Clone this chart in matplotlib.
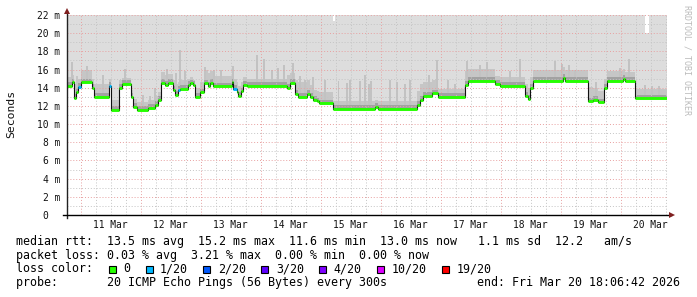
import numpy as np
import matplotlib
matplotlib.use('Agg')
import matplotlib.pyplot as plt
from matplotlib.patches import Rectangle

# time axis: days since 10 Mar 00:00, median rtt in ms (step starts)
seg_start = [0.767, 0.850, 0.888, 0.922, 0.960, 1.000, 1.183, 1.222, 1.477, 1.500,
             1.643, 1.683, 1.833, 1.877, 1.933, 2.127, 2.238, 2.293, 2.333, 2.405,
             2.460, 2.533, 2.572, 2.627, 2.655, 2.793, 2.822, 2.877, 2.905, 2.988,
             3.055, 3.127, 3.155, 3.210, 3.517, 3.543, 3.600, 3.627, 3.667, 3.710,
             3.767, 4.433, 4.488, 4.572, 4.627, 4.767, 4.822, 4.877, 4.933, 4.977,
             5.210, 5.905, 5.955, 6.605, 6.655, 6.705, 6.855, 6.955, 7.405, 7.455,
             7.905, 7.988, 8.405, 8.460, 8.488, 8.538, 9.038, 9.072, 9.455, 9.538,
             9.622, 9.722, 9.772, 10.038, 10.072, 10.238]
median_ms = [14.2, 14.6, 12.9, 13.5, 14.1, 14.6, 14.0, 13.0, 14.2, 11.55,
             14.0, 14.4, 13.0, 11.9, 11.6, 11.8, 12.1, 12.65, 14.55, 14.3,
             14.55, 13.75, 13.2, 13.75, 13.9, 14.3, 14.5, 14.3, 13.0, 13.5,
             14.5, 14.2, 14.55, 14.15, 14.6, 13.9, 13.5, 13.1, 13.6, 14.3,
             14.2, 14.0, 14.55, 13.3, 13.0, 13.3, 13.0, 12.7, 12.5, 12.3,
             11.7, 11.9, 11.7, 12.1, 12.7, 13.1, 13.4, 13.0, 14.3, 14.75,
             14.4, 14.2, 13.1, 12.8, 14.0, 14.75, 15.1, 14.75, 12.5, 12.7,
             12.4, 14.0, 14.75, 15.0, 14.75, 12.85]
# upper edge of the denser smoke per segment
smoke_hi = [15.2, 15.4, 14.4, 15.3, 15.0, 15.9, 15.0, 14.4, 15.0, 12.6,
            14.8, 15.1, 13.8, 12.8, 12.4, 12.6, 13.1, 13.5, 15.7, 15.4,
            15.5, 14.8, 14.4, 14.6, 14.9, 15.0, 15.2, 14.9, 14.0, 14.6,
            16.0, 15.6, 15.8, 15.3, 16.0, 15.0, 14.6, 14.2, 14.6, 15.2,
            15.0, 15.4, 15.6, 14.8, 14.6, 14.8, 14.3, 13.8, 13.6, 13.5,
            12.5, 12.6, 12.5, 13.6, 14.4, 14.6, 14.9, 13.9, 15.8, 16.1,
            15.3, 15.2, 14.4, 14.0, 15.2, 15.9, 16.3, 15.9, 14.1, 14.0,
            13.6, 15.0, 15.8, 16.1, 15.7, 13.9]
loss_n = [0, 0, 0, 0, 1, 0, 0, 0, 1, 0,
          0, 0, 0, 0, 0, 0, 0, 0, 0, 0,
          0, 0, 0, 1, 0, 0, 0, 0, 0, 0,
          0, 0, 0, 0, 0, 1, 0, 0, 0, 0,
          0, 0, 0, 0, 0, 0, 0, 0, 0, 0,
          0, 0, 0, 0, 0, 0, 0, 0, 0, 0,
          0, 0, 0, 0, 0, 0, 0, 0, 0, 0,
          0, 0, 0, 0, 0, 0]
t_end = 10.767

spike_day = [0.855, 1.105, 1.372, 1.738, 2.038, 2.155, 2.238, 2.438, 2.588, 2.655,
             2.738, 3.072, 3.222, 3.338, 3.538, 3.938, 4.055, 4.188, 4.288, 4.388,
             4.538, 4.655, 4.738, 4.872, 5.072, 5.300, 5.438, 5.488, 5.655, 5.738,
             5.805, 5.838, 6.155, 6.272, 6.405, 6.488, 6.805, 6.938, 7.122, 7.238,
             7.438, 7.655, 7.772, 8.155, 8.322, 8.905, 9.022, 9.138, 9.238, 9.588,
             9.988, 10.138, 10.405, 10.522, 10.638]
spike_top = [16.8, 16.4, 15.4, 16.1, 13.2, 13.1, 14.0, 16.1, 15.6, 18.2,
             15.8, 16.3, 15.9, 15.9, 16.4, 17.6, 17.2, 15.9, 16.2, 16.5,
             16.7, 15.3, 14.8, 15.2, 14.9, 14.7, 14.5, 14.85, 14.7, 15.4,
             14.4, 14.7, 14.9, 14.6, 14.4, 14.9, 15.4, 17.1, 14.9, 14.4,
             16.9, 16.5, 16.8, 15.8, 17.2, 16.9, 16.6, 16.5, 16.0, 14.6,
             16.2, 17.2, 14.3, 14.2, 14.2]

# places where the highest ping stayed below the top of the graph
gap_start = [5.205, 10.413]
gap_end = [5.238, 10.472]
gap_top = [21.3, 20.0]

day_labels = ['11 Mar', '12 Mar', '13 Mar', '14 Mar', '15 Mar',
              '16 Mar', '17 Mar', '18 Mar', '19 Mar', '20 Mar']
ytick_ms = [0, 2, 4, 6, 8, 10, 12, 14, 16, 18, 20, 22]

loss_levels = [0, 1, 2, 3, 4, 10, 19]
loss_labels = ['0', '1/20', '2/20', '3/20', '4/20', '10/20', '19/20']
loss_colors = ['#26ff00', '#00b8ff', '#0059ff', '#5e00ff', '#7e00ff', '#dd00ff', '#ff0000']

line_rtt = 'median rtt:  13.5 ms avg  15.2 ms max  11.6 ms min  13.0 ms now   1.1 ms sd  12.2   am/s'
line_loss = 'packet loss: 0.03 % avg  3.21 % max  0.00 % min  0.00 % now'
line_probe = 'probe:       20 ICMP Echo Pings (56 Bytes) every 300s'
line_end = 'end: Fri Mar 20 18:06:42 2026'

W, H = 697, 297
MONO = 'DejaVu Sans Mono'
plt.rcParams['font.family'] = MONO

fig = plt.figure(figsize=(W / 100, H / 100), dpi=100, facecolor='white')
ax = fig.add_axes([66.7 / W, 1 - 215 / H, 600 / W, 200 / H])
ax.set_facecolor('white')

edges = np.append(seg_start, t_end)
med = np.array(median_ms)
med_ext = np.append(med, med[-1])
hi_ext = np.append(smoke_hi, smoke_hi[-1])

# smoke
ax.fill_between(edges, med_ext, 23, step='post', color='#dddddd', lw=0, zorder=1)
ax.fill_between(edges, med_ext, hi_ext, step='post', color='#c6c6c6', lw=0, zorder=2)
idx = np.searchsorted(edges, spike_day, side='right') - 1
base = med[idx]
ax.bar(spike_day, np.array(spike_top) - base, bottom=base, width=0.025,
       color='#c2c2c2', lw=0, zorder=2.2)
ax.fill_between(edges, med_ext, med_ext + 0.4, step='post', color='#a2a2a2', lw=0, zorder=2.5)
for s, e, top in zip(gap_start, gap_end, gap_top):
    ax.fill_between([s, e], [top, top], 23, color='white', lw=0, zorder=3)

# grid
for d in np.arange(1, t_end, 0.25):
    major = abs(d - round(d)) < 1e-6
    ax.axvline(d, color='#e8a0a0' if major else '#c4c4c4', lw=0.7,
               ls=(0, (1, 2)), zorder=4)
for v in range(1, 23):
    ax.axhline(v, color='#e8a0a0' if v % 2 == 0 else '#c4c4c4', lw=0.7,
               ls=(0, (1, 2)), zorder=4)

# median
ax.step(edges, med_ext, where='post', color='#111111', lw=0.8, zorder=5)
seg_colors = []
for n in loss_n:
    k = max(i for i, lv in enumerate(loss_levels) if lv <= n)
    seg_colors.append(loss_colors[k])
ax.hlines(med, edges[:-1], edges[1:], colors=seg_colors, lw=2.1, zorder=6)

ax.set_xlim(seg_start[0], t_end)
ax.set_ylim(0, 22)
for sp in ax.spines.values():
    sp.set_visible(False)

# axes and arrows
ax.plot([seg_start[0], seg_start[0]], [-0.35, 22.4], color='#222222', lw=1,
        clip_on=False, zorder=7)
ax.plot([seg_start[0] - 0.06, 10.84], [0, 0], color='black', lw=1,
        clip_on=False, zorder=7)
ax.plot([seg_start[0]], [22.45], marker='^', ms=4, color='#7f1f1f', mew=0,
        clip_on=False, zorder=8)
ax.plot([10.86], [0], marker='>', ms=4, color='#7f1f1f', mew=0,
        clip_on=False, zorder=8)

ax.set_xticks(np.arange(1.5, 11, 1.0), day_labels)
ax.set_yticks(ytick_ms, ['0  '] + ['%d m' % v for v in ytick_ms[1:]])
ax.tick_params(length=0, labelsize=6.9, colors='#111111')
ax.tick_params(axis='y', pad=4.8)
ax.tick_params(axis='x', pad=3.5)

fig.text(11 / W, 1 - 114 / H, 'Seconds', rotation=90, ha='center', va='center',
         fontsize=8.2, color='#111111')
fig.text(687 / W, 1 - 5 / H, 'RRDTOOL / TOBI OETIKER', rotation=270, ha='center',
         va='top', fontsize=6, color='#bbbbbb')

def fx(x):
    return x / W

def fy(y):
    return 1 - y / H

LS = 8.4
fig.text(fx(16), fy(241.7), line_rtt, fontsize=LS, va='center', ha='left')
fig.text(fx(16), fy(255), line_loss, fontsize=LS, va='center', ha='left')
fig.text(fx(16), fy(269), 'loss color:', fontsize=LS, va='center', ha='left')
fig.text(fx(16), fy(282.7), line_probe, fontsize=LS, va='center', ha='left')
fig.text(fx(680), fy(282.7), line_end, fontsize=LS, va='center', ha='right')

bx = 108.7
for lab, col in zip(loss_labels, loss_colors):
    fig.add_artist(Rectangle((fx(bx), fy(273)), 7 / W, 7 / H, transform=fig.transFigure,
                             facecolor=col, edgecolor='black', lw=0.8))
    tx = bx + 14.5
    fig.text(fx(tx), fy(269), lab, fontsize=LS, va='center', ha='left')
    bx = tx + len(lab) * 7.03 + 15.3

fig.savefig('out.png', dpi=100, facecolor='white')
